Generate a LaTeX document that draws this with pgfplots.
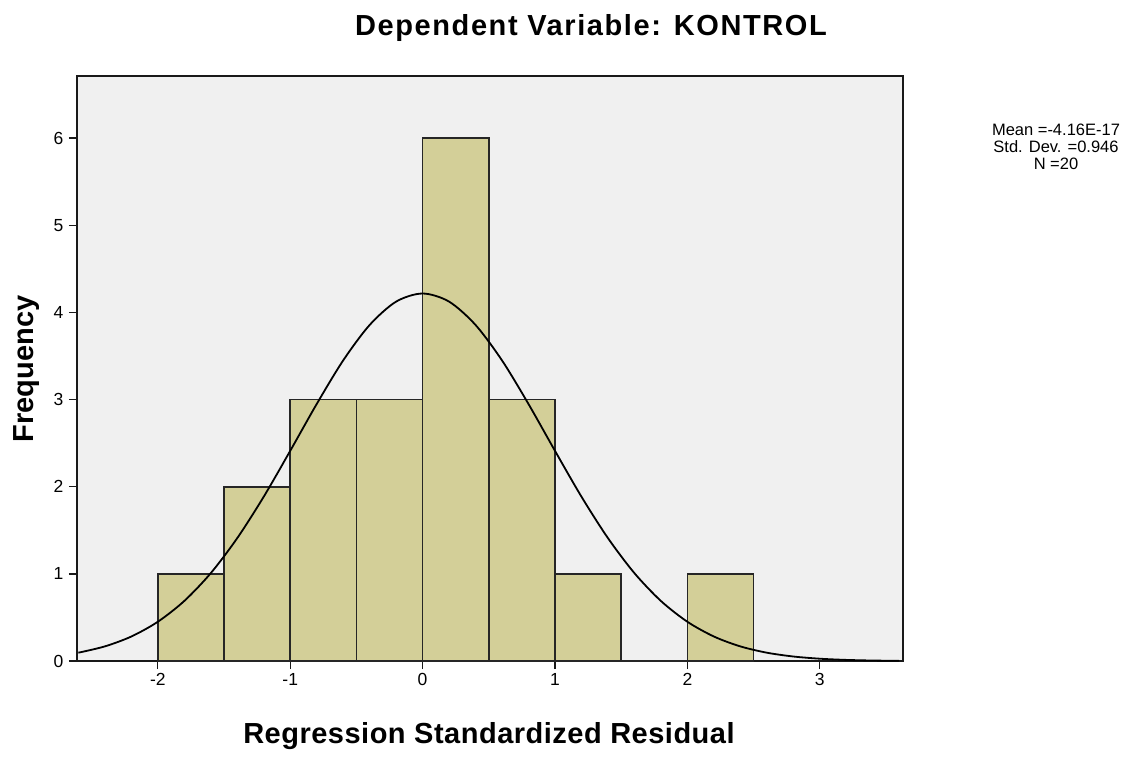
\documentclass[border=0pt]{standalone}
\usepackage{pgfplots}
\pgfplotsset{compat=1.18}
\usepackage{fontspec}
\setmainfont{Liberation Sans}
\definecolor{barfill}{HTML}{D3CF98}
\definecolor{bgc}{HTML}{F0F0F0}
\begin{document}
\begin{tikzpicture}[x=1pt,y=1pt]
\path[use as bounding box] (0,0) rectangle (1136,757);
\begin{axis}[
  at={(58,110)}, anchor=south west,
  scale only axis, width=826pt, height=585pt,
  xmin=-2.612, xmax=3.627, ymin=0, ymax=6.711,
  axis background/.style={fill=bgc},
  axis line style={black!90, line width=1.5pt},
  xtick={-2,-1,0,1,2,3}, ytick={0,1,2,3,4,5,6},
  tick align=outside, xtick pos=bottom, ytick pos=left,
  major tick length=8pt,
  tick style={black!90, line width=1.3pt},
  ticklabel style={font=\fontsize{17.5}{20}\selectfont},
  /pgf/number format/assume math mode=true,
  xticklabel style={yshift=-1pt},
  yticklabel style={xshift=-2pt},
  clip=true,
]
\addplot[ybar interval, fill=barfill, draw=black!85, line width=1.6pt]
coordinates {(-2,1) (-1.5,2) (-1,3) (-0.5,3) (0,6) (0.5,3) (1,1) (1.5,0) (2,1) (2.5,1)};
\addplot[black, line width=1.8pt, smooth] coordinates {
(-2.6,0.0965) (-2.4,0.1688) (-2.2,0.2822) (-2.0,0.4513) (-1.8,0.690) (-1.6,1.009)
(-1.4,1.411) (-1.2,1.886) (-1.0,2.412) (-0.8,2.949) (-0.6,3.449) (-0.4,3.856)
(-0.2,4.124) (0,4.217) (0.2,4.124) (0.4,3.856) (0.6,3.449) (0.8,2.949)
(1.0,2.412) (1.2,1.886) (1.4,1.411) (1.6,1.009) (1.8,0.690) (2.0,0.4513)
(2.2,0.2822) (2.4,0.1688) (2.6,0.0965) (2.8,0.0528) (3.0,0.0276) (3.2,0.0138)
(3.4,0.0066) (3.6,0.0030)};
\end{axis}
\node[font=\fontsize{29}{33}\selectfont\bfseries\addfontfeatures{LetterSpace=5.5}] at (591,729) {Dependent Variable: KONTROL};
\node[font=\fontsize{29}{33}\selectfont\bfseries\addfontfeatures{LetterSpace=1.7}] at (489,21) {Regression Standardized Residual};
\node[font=\fontsize{29}{33}\selectfont\bfseries, rotate=90] at (27,388) {Frequency};
\node[font=\fontsize{16.5}{17}\selectfont, align=center] at (1056,610) {Mean =-4.16E-17\\Std. Dev. =0.946\\N =20};
\end{tikzpicture}
\end{document}
